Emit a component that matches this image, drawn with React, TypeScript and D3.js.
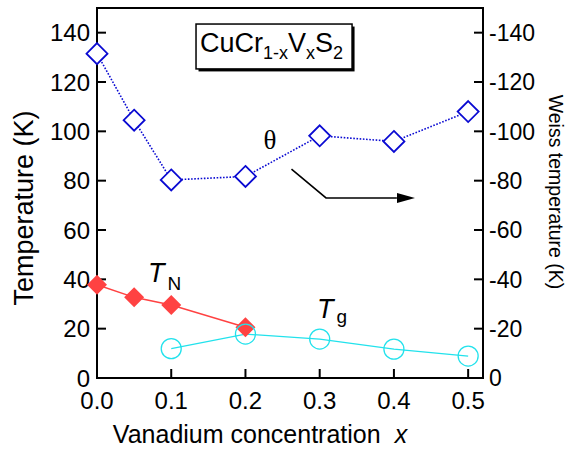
import React, { useRef, useEffect } from 'react';
import * as d3 from 'd3';

// vanadium concentration x for each series
const thetaX = [0.0, 0.05, 0.1, 0.2, 0.3, 0.4, 0.5];
const thetaY = [131.5, 104.5, 80.3, 81.7, 98.2, 95.9, 108.0]; // -Weiss temperature (K)
const tnX = [0.0, 0.05, 0.1, 0.2];
const tnY = [37.8, 32.7, 29.6, 20.6];
const tgX = [0.1, 0.2, 0.3, 0.4, 0.5];
const tgY = [11.9, 17.8, 15.8, 11.7, 8.9];

const xTicks = [0, 0.1, 0.2, 0.3, 0.4, 0.5];
const yTicks = [0, 20, 40, 60, 80, 100, 120, 140];

const BLUE = '#0a0ad2';
const RED = '#ff4242';
const CYAN = '#22e2ec';
const SANS = '"Liberation Sans", Arial, Helvetica, sans-serif';

const App = () => {
  const svgRef = useRef<SVGSVGElement>(null);

  useEffect(() => {
    const svg = d3.select(svgRef.current);
    svg.selectAll('*').remove();

    const width = 566;
    const height = 450;
    const margin = { top: 8, right: 83, bottom: 72, left: 97 };

    const x = d3.scaleLinear().domain([0, 0.52]).range([margin.left, width - margin.right]);
    const y = d3.scaleLinear().domain([0, 150]).range([height - margin.bottom, margin.top]);

    const x0 = x.range()[0], x1 = x.range()[1];
    const y0 = y.range()[0], y1 = y.range()[1];

    // frame
    svg.append('rect')
      .attr('x', x0).attr('y', y1)
      .attr('width', x1 - x0).attr('height', y0 - y1)
      .attr('fill', 'none').attr('stroke', '#000').attr('stroke-width', 2);

    // ticks (inward)
    const tl = 9;
    svg.append('g').selectAll('line').data(yTicks).enter().append('line')
      .attr('x1', x0).attr('x2', x0 + tl)
      .attr('y1', d => y(d)).attr('y2', d => y(d))
      .attr('stroke', '#000').attr('stroke-width', 2);
    svg.append('g').selectAll('line').data(yTicks).enter().append('line')
      .attr('x1', x1).attr('x2', x1 - tl)
      .attr('y1', d => y(d)).attr('y2', d => y(d))
      .attr('stroke', '#000').attr('stroke-width', 2);
    svg.append('g').selectAll('line').data(xTicks).enter().append('line')
      .attr('x1', d => x(d)).attr('x2', d => x(d))
      .attr('y1', y0).attr('y2', y0 - tl)
      .attr('stroke', '#000').attr('stroke-width', 2);

    // tick labels
    svg.append('g').selectAll('text').data(yTicks).enter().append('text')
      .attr('x', x0 - 7).attr('y', d => y(d)).attr('dy', '0.36em')
      .attr('text-anchor', 'end')
      .attr('font-family', SANS).attr('font-size', 24)
      .text(d => d);
    svg.append('g').selectAll('text').data(yTicks).enter().append('text')
      .attr('x', x1 + 6).attr('y', d => y(d)).attr('dy', '0.36em')
      .attr('text-anchor', 'start')
      .attr('font-family', SANS).attr('font-size', 23)
      .text(d => (d === 0 ? '0' : '-' + d));
    svg.append('g').selectAll('text').data(xTicks).enter().append('text')
      .attr('x', d => x(d)).attr('y', y0 + 31)
      .attr('text-anchor', 'middle')
      .attr('font-family', SANS).attr('font-size', 24)
      .text(d => d3.format('.1f')(d));

    // axis titles
    const xt = svg.append('text')
      .attr('x', 260).attr('y', 443)
      .attr('text-anchor', 'middle')
      .attr('font-family', SANS).attr('font-size', 25);
    xt.append('tspan').text('Vanadium concentration');
    xt.append('tspan').attr('dx', 14).attr('font-style', 'italic').text('x');

    svg.append('text')
      .attr('transform', 'translate(33,208) rotate(-90)')
      .attr('text-anchor', 'middle')
      .attr('font-family', SANS).attr('font-size', 27)
      .text('Temperature (K)');

    svg.append('text')
      .attr('transform', 'translate(549,192) rotate(90)')
      .attr('text-anchor', 'middle')
      .attr('font-family', SANS).attr('font-size', 19.5)
      .text('Weiss temperature (K)');

    // series lines
    const line = d3.line<[number, number]>().x(d => x(d[0])).y(d => y(d[1]));
    const thetaPts = thetaX.map((v, i) => [v, thetaY[i]] as [number, number]);
    const tnPts = tnX.map((v, i) => [v, tnY[i]] as [number, number]);
    const tgPts = tgX.map((v, i) => [v, tgY[i]] as [number, number]);

    svg.append('path').attr('d', line(tgPts))
      .attr('fill', 'none').attr('stroke', CYAN).attr('stroke-width', 1.3);
    svg.append('path').attr('d', line(tnPts))
      .attr('fill', 'none').attr('stroke', RED).attr('stroke-width', 1.5);
    svg.append('path').attr('d', line(thetaPts))
      .attr('fill', 'none').attr('stroke', BLUE).attr('stroke-width', 1.6)
      .attr('stroke-dasharray', '1.6,1.6');

    const diamond = (r: number) => `M0,${-r}L${r},0L0,${r}L${-r},0Z`;

    svg.append('g').selectAll('path').data(tnPts).enter().append('path')
      .attr('transform', d => `translate(${x(d[0])},${y(d[1])})`)
      .attr('d', diamond(10))
      .attr('fill', RED);

    svg.append('g').selectAll('circle').data(tgPts).enter().append('circle')
      .attr('cx', d => x(d[0])).attr('cy', d => y(d[1]))
      .attr('r', 10)
      .attr('fill', 'none').attr('stroke', CYAN).attr('stroke-width', 1.3);

    svg.append('g').selectAll('path').data(thetaPts).enter().append('path')
      .attr('transform', d => `translate(${x(d[0])},${y(d[1])})`)
      .attr('d', diamond(10.5))
      .attr('fill', '#fff').attr('stroke', BLUE).attr('stroke-width', 1.8);

    // annotations
    svg.append('text')
      .attr('x', x(0.233)).attr('y', y(93.0))
      .attr('text-anchor', 'middle')
      .attr('font-family', '"Liberation Serif", "Times New Roman", serif').attr('font-size', 27)
      .text('θ');

    const tn = svg.append('text')
      .attr('x', x(0.0687)).attr('y', y(38.9))
      .attr('font-family', SANS);
    tn.append('tspan').attr('font-size', 27).attr('font-style', 'italic').text('T');
    tn.append('tspan').attr('font-size', 19).attr('dx', 3).attr('dy', 8).text('N');

    const tg = svg.append('text')
      .attr('x', x(0.2964)).attr('y', y(24.3))
      .attr('font-family', SANS);
    tg.append('tspan').attr('font-size', 27).attr('font-style', 'italic').text('T');
    tg.append('tspan').attr('font-size', 19).attr('dx', 3).attr('dy', 5).text('g');

    // arrow pointing to right axis
    const arrow = [[0.262, 84.7], [0.3085, 73.0], [0.404, 73.0]] as [number, number][];
    svg.append('path').attr('d', line(arrow))
      .attr('fill', 'none').attr('stroke', '#000').attr('stroke-width', 1.6);
    const ax = x(0.4284), ay = y(73.0);
    svg.append('path')
      .attr('d', `M${ax},${ay}L${ax - 18},${ay - 5}L${ax - 18},${ay + 5}Z`)
      .attr('fill', '#000');

    // compound label box
    const bx0 = x(0.1334), bx1 = x(0.3436), by0 = y(143.5), by1 = y(125.3);
    svg.append('rect')
      .attr('x', bx0 + 2.5).attr('y', by0 + 2.5)
      .attr('width', bx1 - bx0).attr('height', by1 - by0)
      .attr('fill', '#000');
    svg.append('rect')
      .attr('x', bx0).attr('y', by0)
      .attr('width', bx1 - bx0).attr('height', by1 - by0)
      .attr('fill', '#fff').attr('stroke', '#000').attr('stroke-width', 1.5);

    const formula = svg.append('text')
      .attr('x', bx0 + 4).attr('y', by0 + 28)
      .attr('font-family', SANS).attr('font-size', 27);
    formula.append('tspan').text('CuCr');
    formula.append('tspan').attr('font-size', 18).attr('dy', 7).text('1-x');
    formula.append('tspan').attr('dy', -7).text('V');
    formula.append('tspan').attr('font-size', 18).attr('dy', 7).text('x');
    formula.append('tspan').attr('dy', -7).text('S');
    formula.append('tspan').attr('font-size', 18).attr('dy', 7).text('2');
  }, []);

  return (
    <svg ref={svgRef} width="566" height="450"
      style={{ position: 'absolute', left: 0, top: 0, background: '#fff' }}></svg>
  );
};

export default App;
